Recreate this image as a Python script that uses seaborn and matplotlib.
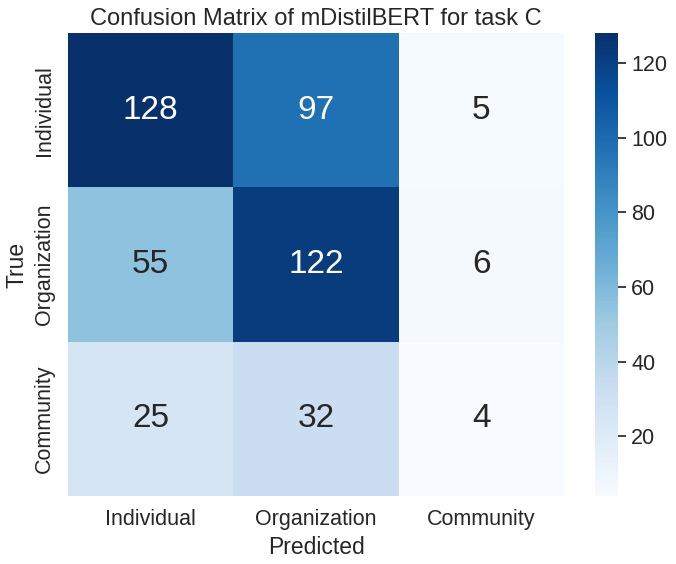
import numpy as np
import pandas as pd
import matplotlib
matplotlib.use("Agg")
import matplotlib.pyplot as plt
import seaborn as sns

labels = ['Individual', 'Organization', 'Community']
row_individual = [128, 97, 5]
row_organization = [55, 122, 6]
row_community = [25, 32, 4]

cm = pd.DataFrame([row_individual, row_organization, row_community],
                  index=labels, columns=labels)

sns.set_theme(style='white', font_scale=1.4)
plt.rcParams['font.family'] = ['Liberation Sans', 'DejaVu Sans']

W, H = 676, 564
fig = plt.figure(figsize=(W / 100, H / 100), dpi=100)
ax = fig.add_axes([68 / W, (H - 496) / H, 496 / W, 463 / H])
cax = fig.add_axes([595 / W, (H - 496) / H, 23 / W, 463 / H])

sns.heatmap(cm, annot=True, fmt='d', cmap='Blues', ax=ax, cbar_ax=cax,
            annot_kws={'size': 24})
ax.set_title('Confusion Matrix of mDistilBERT for task C', fontsize=17)
ax.set_xlabel('Predicted', fontsize=16.5)
ax.set_ylabel('True', fontsize=16.5)
ax.tick_params(axis='both', labelsize=15.5)
cax.tick_params(labelsize=15.5)
fig.savefig('out.png', dpi=100)
